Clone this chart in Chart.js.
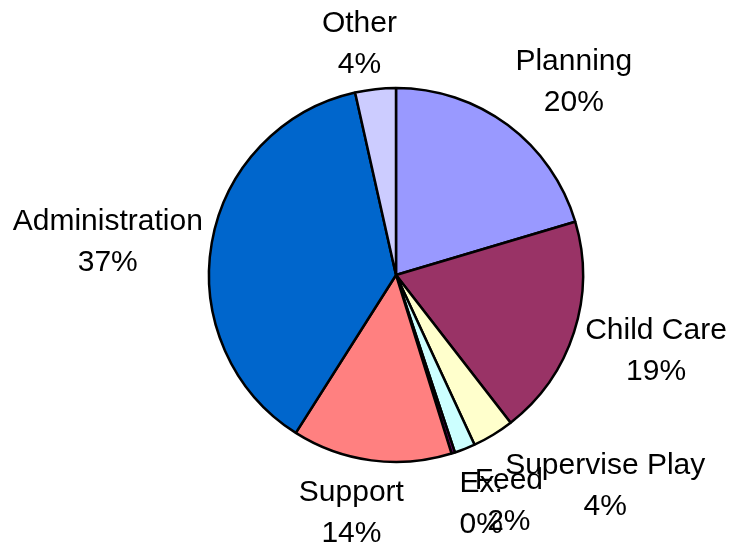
<!DOCTYPE html>
<html>
<head>
<meta charset="utf-8">
<script src="https://cdn.jsdelivr.net/npm/chart.js@4"></script>
<style>
  html, body { margin:0; padding:0; background:#fff; }
  #wrap { width:732px; height:548px; }
</style>
</head>
<body>
<div id="wrap"><canvas id="pie" width="732" height="548"></canvas></div>
<script>
// chart data
const categories = ['Planning', 'Child Care', 'Supervise Play', 'Feed', 'Ex.', 'Support', 'Administration', 'Other'];
const shares = [20.4, 19.1, 3.6, 1.8, 0.3, 13.8, 37.49, 3.51];
const sliceColors = ['#9999FF', '#993366', '#FFFFCC', '#CCFFFF', '#660066', '#FF8080', '#0066CC', '#CCCCFF'];

// label nudge from the slice's outer mid point (px)
const labelNudge = [[66,-43], [82,19], [112,51], [44,52], [28,51], [-20,53], [-104,-1], [-16,-45]];

const outsideLabels = {
  id: 'outsideLabels',
  afterDatasetsDraw(chart){
    const ctx = chart.ctx;
    const meta = chart.getDatasetMeta(0);
    const total = shares.reduce((a,b)=>a+b, 0);
    ctx.save();
    ctx.font = '30px "Liberation Sans", Arial, sans-serif';
    ctx.fillStyle = '#000';
    ctx.textAlign = 'center';
    ctx.textBaseline = 'middle';
    meta.data.forEach((arc, i)=>{
      const p = arc.getProps(['x','y','startAngle','endAngle','outerRadius'], true);
      const mid = (p.startAngle + p.endAngle) / 2;
      const ex = p.x + Math.cos(mid) * p.outerRadius;
      const ey = p.y + Math.sin(mid) * p.outerRadius;
      const cx = ex + labelNudge[i][0];
      const cy = ey + labelNudge[i][1];
      const pct = Math.round(shares[i] / total * 100) + '%';
      ctx.fillText(categories[i], cx, cy - 20.5);
      ctx.fillText(pct, cx, cy + 20.5);
    });
    ctx.restore();
  }
};

new Chart(document.getElementById('pie'), {
  type: 'pie',
  data: {
    labels: categories,
    datasets: [{
      data: shares,
      backgroundColor: sliceColors,
      borderColor: '#000',
      borderWidth: 2.5
    }]
  },
  options: {
    responsive: false,
    animation: false,
    radius: 187,
    layout: { padding: { left: 60, right: 0, top: 2, bottom: 0 } },
    plugins: {
      legend: { display: false },
      tooltip: { enabled: false }
    }
  },
  plugins: [outsideLabels]
});
</script>
</body>
</html>
